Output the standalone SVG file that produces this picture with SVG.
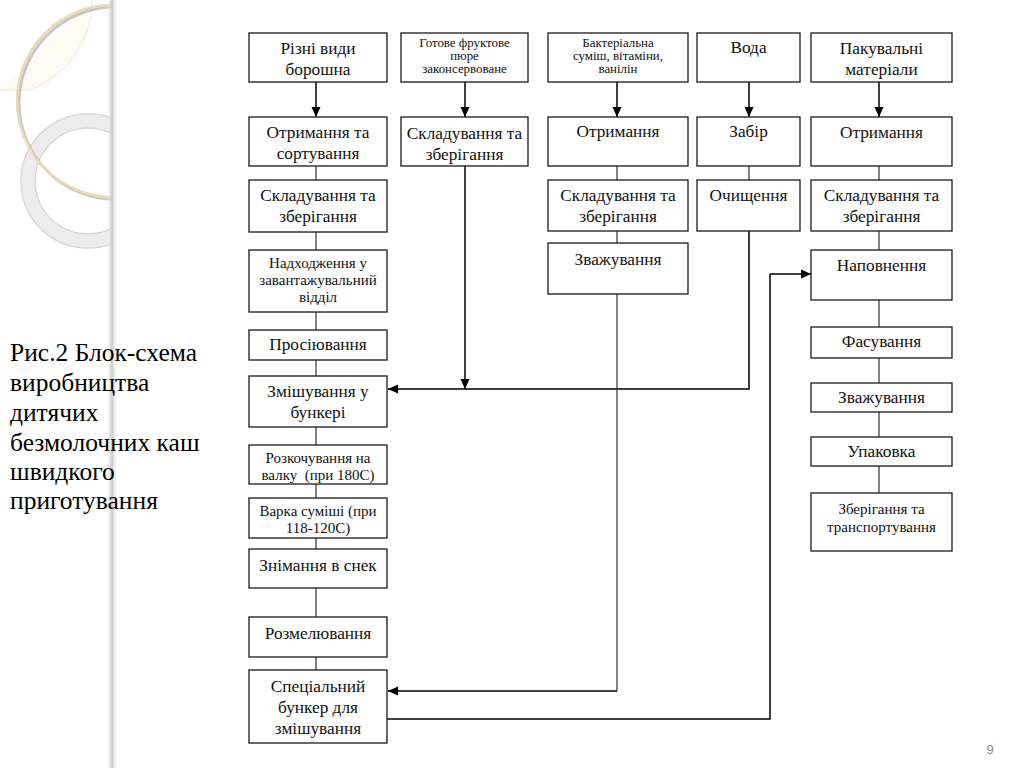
<svg xmlns="http://www.w3.org/2000/svg" width="1024" height="768" viewBox="0 0 1024 768">
<defs>
<style>
.box{fill:#fff;stroke:#1a1a1a;stroke-width:1.3}
.t{font-family:'Liberation Serif','DejaVu Serif',serif;fill:#111;text-anchor:middle}
.f17{font-size:17.3px}.f15{font-size:15px}.f13{font-size:12.9px}
.ln{fill:none;stroke:#333;stroke-width:1.2}
.ar{fill:none;stroke:#000;stroke-width:1.5}
</style>
<marker id="ah" markerWidth="10" markerHeight="10" viewBox="0 0 10 10" refX="10" refY="5" orient="auto" markerUnits="userSpaceOnUse">
<path d="M0,0.5 L10,5 L0,9.5 z" fill="#000"/>
</marker>
<linearGradient id="bar" x1="0" x2="1" y1="0" y2="0">
<stop offset="0" stop-color="#fff" stop-opacity="0"/>
<stop offset="0.5" stop-color="#c8c8c8"/>
<stop offset="1" stop-color="#fff" stop-opacity="0"/>
</linearGradient>
<clipPath id="lc"><rect x="0" y="0" width="112" height="768"/></clipPath>
</defs>
<rect width="1024" height="768" fill="#fff"/>
<g id="decor">
<g clip-path="url(#lc)">
<path d="M0,90 L30,90 A95,95 0 0 0 92,0" fill="#fdfbf4" stroke="#ece6d2" stroke-width="0.8"/>
<circle cx="88" cy="181" r="60" fill="none" stroke="#b9b9b9" stroke-width="15.5" opacity="0.6"/>
<circle cx="88" cy="181" r="60" fill="none" stroke="#ececec" stroke-width="13"/>
<circle cx="115" cy="103" r="96" fill="none" stroke="#9a9a9a" stroke-width="3" opacity="0.55"/>
<circle cx="113" cy="101" r="96" fill="none" stroke="#e9dcb4" stroke-width="2.5"/>
</g>
<rect x="106" y="0" width="12" height="768" fill="url(#bar)"/>
</g>
<g id="caption" font-family="'Liberation Serif','DejaVu Serif',serif" font-size="25.5" fill="#000">
<text x="10" y="361">Рис.2 Блок-схема</text>
<text x="10" y="391">виробництва</text>
<text x="10" y="421">дитячих</text>
<text x="10" y="451">безмолочних каш</text>
<text x="10" y="480">швидкого</text>
<text x="10" y="509">приготування</text>
</g>
<text id="page" x="990" y="754" font-family="'Liberation Sans',Arial,sans-serif" font-size="13" fill="#8a8a8a" text-anchor="middle">9</text>
<g id="connectors">
<path class="ln" d="M316,166V180 M316,232V250 M316,312V330 M316,360V376 M316,427V445 M316,484V498 M316,538V549 M316,588V617 M316,657V670"/>
<path class="ln" d="M617,166V180 M617,231V243 M749,166V180 M879,166V180 M879,231V250 M879,300V327 M879,358V383 M879,412V437 M879,466V493"/>
<path class="ar" marker-end="url(#ah)" d="M316,82V117"/>
<path class="ar" marker-end="url(#ah)" d="M465,82V117"/>
<path class="ar" marker-end="url(#ah)" d="M617,82V117"/>
<path class="ar" marker-end="url(#ah)" d="M749,82V117"/>
<path class="ar" marker-end="url(#ah)" d="M879,82V117"/>
<path class="ar" marker-end="url(#ah)" d="M465,166V389"/>
<path class="ar" marker-end="url(#ah)" d="M749,231V389H388"/>
<path class="ln" d="M617,294V691"/>
<path class="ar" marker-end="url(#ah)" d="M617,691H388"/>
<path class="ar" d="M387,719H770V274"/>
<path class="ar" marker-end="url(#ah)" d="M770,274H811"/>
</g>
<g id="n1"><rect class="box" x="249" y="33" width="138" height="49"/><text class="t f17" x="318" y="54">Різні види</text><text class="t f17" x="318" y="75">борошна</text></g>
<g id="n2"><rect class="box" x="249" y="117" width="138" height="49"/><text class="t f17" x="318" y="138">Отримання та</text><text class="t f17" x="318" y="159">сортування</text></g>
<g id="n3"><rect class="box" x="249" y="180" width="138" height="52"/><text class="t f17" x="318" y="201">Складування та</text><text class="t f17" x="318" y="222">зберігання</text></g>
<g id="n4"><rect class="box" x="249" y="250" width="138" height="62"/><text class="t f15" x="318" y="268">Надходження у</text><text class="t f15" x="318" y="285">завантажувальний</text><text class="t f15" x="318" y="302">відділ</text></g>
<g id="n5"><rect class="box" x="249" y="330" width="138" height="30"/><text class="t f17" x="318" y="350">Просіювання</text></g>
<g id="n6"><rect class="box" x="249" y="376" width="138" height="51"/><text class="t f17" x="318" y="397">Змішування у</text><text class="t f17" x="318" y="418">бункері</text></g>
<g id="n7"><rect class="box" x="249" y="445" width="138" height="39"/><text class="t f15" x="318" y="463">Розкочування на</text><text class="t f15" x="318" y="480" xml:space="preserve">валку  (при 180С)</text></g>
<g id="n8"><rect class="box" x="249" y="498" width="138" height="40"/><text class="t f15" x="318" y="516">Варка суміші (при</text><text class="t f15" x="318" y="533">118-120С)</text></g>
<g id="n9"><rect class="box" x="249" y="549" width="138" height="39"/><text class="t f17" x="318" y="571">Знімання в снек</text></g>
<g id="n10"><rect class="box" x="249" y="617" width="138" height="40"/><text class="t f17" x="318" y="639">Розмелювання</text></g>
<g id="n11"><rect class="box" x="249" y="670" width="138" height="73"/><text class="t f17" x="318" y="692">Спеціальний</text><text class="t f17" x="318" y="713">бункер для</text><text class="t f17" x="318" y="734">змішування</text></g>
<g id="n12"><rect class="box" x="401" y="33" width="127" height="49"/><text class="t f13" x="464.5" y="47">Готове фруктове</text><text class="t f13" x="464.5" y="60">пюре</text><text class="t f13" x="464.5" y="73">законсервоване</text></g>
<g id="n13"><rect class="box" x="401" y="117" width="127" height="49"/><text class="t f17" x="464.5" y="139">Складування та</text><text class="t f17" x="464.5" y="160">зберігання</text></g>
<g id="n14"><rect class="box" x="548" y="33" width="140" height="49"/><text class="t f13" x="618" y="47">Бактеріальна</text><text class="t f13" x="618" y="60">суміш, вітаміни,</text><text class="t f13" x="618" y="73">ванілін</text></g>
<g id="n15"><rect class="box" x="548" y="117" width="140" height="49"/><text class="t f17" x="618" y="137">Отримання</text></g>
<g id="n16"><rect class="box" x="548" y="180" width="140" height="51"/><text class="t f17" x="618" y="201">Складування та</text><text class="t f17" x="618" y="222">зберігання</text></g>
<g id="n17"><rect class="box" x="548" y="243" width="140" height="51"/><text class="t f17" x="618" y="265">Зважування</text></g>
<g id="n18"><rect class="box" x="697" y="33" width="103" height="49"/><text class="t f17" x="748.5" y="53">Вода</text></g>
<g id="n19"><rect class="box" x="697" y="117" width="103" height="49"/><text class="t f17" x="748.5" y="137">Забір</text></g>
<g id="n20"><rect class="box" x="697" y="180" width="103" height="51"/><text class="t f17" x="748.5" y="201">Очищення</text></g>
<g id="n21"><rect class="box" x="811" y="33" width="141" height="49"/><text class="t f17" x="881.5" y="54">Пакувальні</text><text class="t f17" x="881.5" y="75">матеріали</text></g>
<g id="n22"><rect class="box" x="811" y="117" width="141" height="49"/><text class="t f17" x="881.5" y="138">Отримання</text></g>
<g id="n23"><rect class="box" x="811" y="180" width="141" height="51"/><text class="t f17" x="881.5" y="201">Складування та</text><text class="t f17" x="881.5" y="222">зберігання</text></g>
<g id="n24"><rect class="box" x="811" y="250" width="141" height="50"/><text class="t f17" x="881.5" y="271">Наповнення</text></g>
<g id="n25"><rect class="box" x="811" y="327" width="141" height="31"/><text class="t f17" x="881.5" y="347">Фасування</text></g>
<g id="n26"><rect class="box" x="811" y="383" width="141" height="29"/><text class="t f17" x="881.5" y="403">Зважування</text></g>
<g id="n27"><rect class="box" x="811" y="437" width="141" height="29"/><text class="t f17" x="881.5" y="457">Упаковка</text></g>
<g id="n28"><rect class="box" x="811" y="493" width="141" height="58"/><text class="t f15" x="881.5" y="514">Зберігання та</text><text class="t f15" x="881.5" y="532">транспортування</text></g>
</svg>
